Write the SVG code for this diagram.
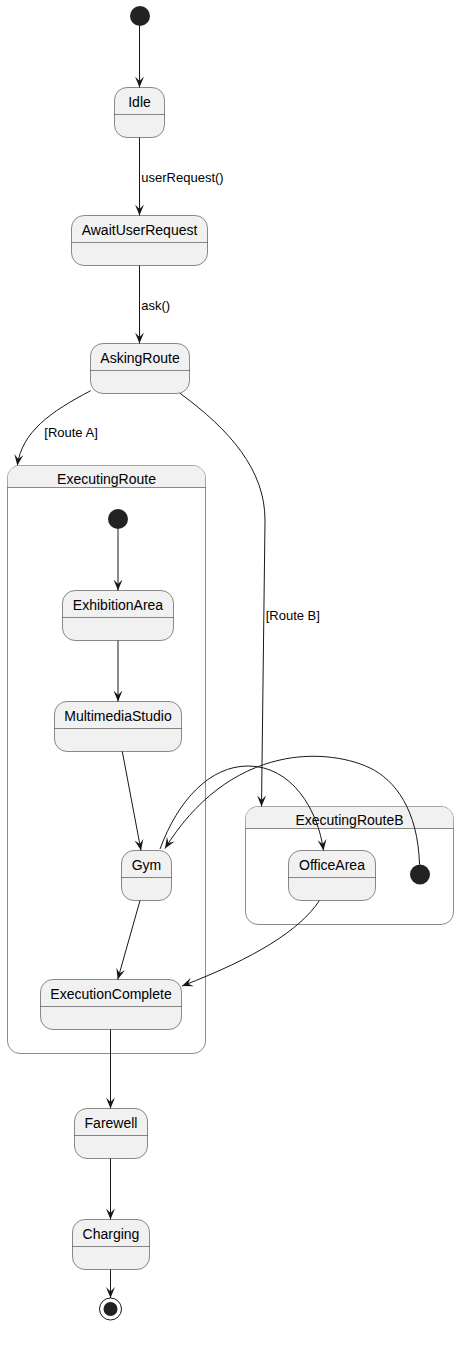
<svg xmlns="http://www.w3.org/2000/svg" width="459" height="1357" viewBox="0 0 459 1357">
<style>
.st{fill:#F1F1F1;stroke:#181818;stroke-width:0.5}
.cp{fill:none;stroke:#181818;stroke-width:0.5}
.hd{fill:#F1F1F1;stroke:none}
.sep{stroke:#181818;stroke-width:0.5}
.nm{font-family:"Liberation Sans",Arial,sans-serif;font-size:14px;fill:#000;text-anchor:middle}
.lb{font-family:"Liberation Sans",Arial,sans-serif;font-size:13px;fill:#000}
.ln{fill:none;stroke:#181818;stroke-width:1;marker-end:url(#ah)}
.dot{fill:#222222;stroke:none}
</style>
<defs>
<marker id="ah" viewBox="0 0 11 10" refX="11" refY="5" markerWidth="11" markerHeight="10" markerUnits="userSpaceOnUse" orient="auto">
<path d="M0,0.5 L11,5 L0,9.5 L4.5,5 Z" fill="#181818"/>
</marker>
</defs>
<rect width="459" height="1357" fill="#FFFFFF"/>

<g id="ExecutingRoute">
<rect class="cp" x="7.5" y="465.5" width="198" height="588" rx="12.5" fill="#FFFFFF"/>
<path class="hd" d="M7.75,487.5 L7.75,478 A12.25,12.25 0 0 1 20,465.75 L193,465.75 A12.25,12.25 0 0 1 205.25,478 L205.25,487.5 Z"/>
<line class="sep" x1="7.5" y1="487.5" x2="205.5" y2="487.5"/>
<text class="nm" x="106.5" y="484">ExecutingRoute</text>
</g>

<g id="ExecutingRouteB">
<rect class="cp" x="245.5" y="806.5" width="208" height="118" rx="12.5" fill="#FFFFFF"/>
<path class="hd" d="M245.75,828.5 L245.75,819 A12.25,12.25 0 0 1 258,806.75 L441,806.75 A12.25,12.25 0 0 1 453.25,819 L453.25,828.5 Z"/>
<line class="sep" x1="245.5" y1="828.5" x2="453.5" y2="828.5"/>
<text class="nm" x="349.5" y="825">ExecutingRouteB</text>
</g>

<g id="start">
<circle class="dot" cx="140" cy="16" r="10"/>
</g>

<g id="Idle">
<rect class="st" x="114.5" y="87.5" width="50" height="50" rx="12.5"/>
<line class="sep" x1="114.5" y1="114.5" x2="164.5" y2="114.5"/>
<text class="nm" x="139.5" y="107">Idle</text>
</g>

<g id="AwaitUserRequest">
<rect class="st" x="71.5" y="215.5" width="136" height="50" rx="12.5"/>
<line class="sep" x1="71.5" y1="242.5" x2="207.5" y2="242.5"/>
<text class="nm" x="139.5" y="235">AwaitUserRequest</text>
</g>

<g id="AskingRoute">
<rect class="st" x="90.5" y="343.5" width="99" height="50" rx="12.5"/>
<line class="sep" x1="90.5" y1="370.5" x2="189.5" y2="370.5"/>
<text class="nm" x="140" y="363">AskingRoute</text>
</g>

<g id="ER_start">
<circle class="dot" cx="118" cy="519" r="10"/>
</g>

<g id="ExhibitionArea">
<rect class="st" x="62.5" y="590.5" width="111" height="50" rx="12.5"/>
<line class="sep" x1="62.5" y1="617.5" x2="173.5" y2="617.5"/>
<text class="nm" x="118" y="610">ExhibitionArea</text>
</g>

<g id="MultimediaStudio">
<rect class="st" x="54.5" y="701.5" width="127" height="50" rx="12.5"/>
<line class="sep" x1="54.5" y1="728.5" x2="181.5" y2="728.5"/>
<text class="nm" x="118" y="721">MultimediaStudio</text>
</g>

<g id="Gym">
<rect class="st" x="121.5" y="850.5" width="50" height="50" rx="12.5"/>
<line class="sep" x1="121.5" y1="877.5" x2="171.5" y2="877.5"/>
<text class="nm" x="146.5" y="870">Gym</text>
</g>

<g id="ExecutionComplete">
<rect class="st" x="40.5" y="979.5" width="141" height="50" rx="12.5"/>
<line class="sep" x1="40.5" y1="1006.5" x2="181.5" y2="1006.5"/>
<text class="nm" x="111" y="999">ExecutionComplete</text>
</g>

<g id="OfficeArea">
<rect class="st" x="288.5" y="850.5" width="87" height="50" rx="12.5"/>
<line class="sep" x1="288.5" y1="877.5" x2="375.5" y2="877.5"/>
<text class="nm" x="332" y="870">OfficeArea</text>
</g>

<g id="ERB_start">
<circle class="dot" cx="420" cy="874.5" r="10"/>
</g>

<g id="Farewell">
<rect class="st" x="74.5" y="1108.5" width="73" height="50" rx="12.5"/>
<line class="sep" x1="74.5" y1="1135.5" x2="147.5" y2="1135.5"/>
<text class="nm" x="111" y="1128">Farewell</text>
</g>

<g id="Charging">
<rect class="st" x="72.5" y="1219.5" width="77" height="50" rx="12.5"/>
<line class="sep" x1="72.5" y1="1246.5" x2="149.5" y2="1246.5"/>
<text class="nm" x="111" y="1239">Charging</text>
</g>

<g id="end">
<circle cx="110.5" cy="1309" r="11" fill="#FFFFFF" stroke="#181818" stroke-width="1"/>
<circle class="dot" cx="110.5" cy="1309" r="7"/>
</g>

<g id="connectors">
<path class="ln" d="M139.5,26 L139.5,87.5"/>
<path class="ln" d="M139.5,137.5 L139.5,215.5"/>
<text class="lb" x="141.3" y="182">userRequest()</text>
<path class="ln" d="M139.5,265.5 L139.5,343.5"/>
<text class="lb" x="141.3" y="310">ask()</text>
<path class="ln" d="M90.7,390.7 C50,412 22,432 17.3,465.5"/>
<text class="lb" x="44.3" y="437">[Route A]</text>
<path class="ln" d="M180,393.3 C230,430 265,470 265,520 L261.5,806.5"/>
<text class="lb" x="265.7" y="620">[Route B]</text>
<path class="ln" d="M118,529 L118,590.5"/>
<path class="ln" d="M118,640.5 L118,701.5"/>
<path class="ln" d="M122.3,751.5 L141,850.5"/>
<path class="ln" d="M140,900.5 L117.7,979.5"/>
<path class="ln" d="M319.3,900.7 C300,930 255,958 182,986"/>
<path class="ln" d="M160,849 C178,800 210,766 248,766 C292,766 318,810 323.5,850.5"/>
<path class="ln" d="M419.5,864.5 C418,810 395,780 370,768 C345,756 310,753 280,760 C235,770 195,800 165,848.5"/>
<path class="ln" d="M110.5,1029.5 L110.5,1108.5"/>
<path class="ln" d="M110.5,1158.5 L110.5,1219.5"/>
<path class="ln" d="M110.5,1269.5 L110.5,1298"/>
</g>
</svg>
